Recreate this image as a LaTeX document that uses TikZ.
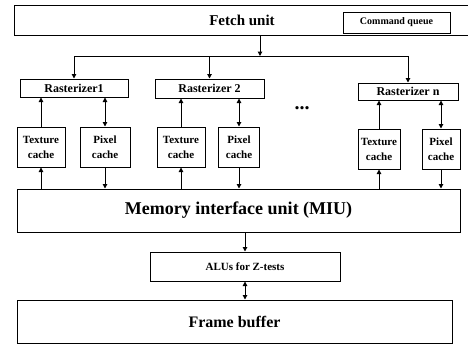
\documentclass[tikz,border=0pt]{standalone}
\usepackage{fontspec}
\setmainfont{Liberation Serif}
\usetikzlibrary{arrows.meta,positioning}

\begin{document}
\begin{tikzpicture}[x=1pt, y=-1pt,
  blk/.style={draw, line width=1pt, inner sep=1pt, align=center,
    font=\fontsize{11}{15}\selectfont\bfseries},
  big/.style={blk, font=\fontsize{18}{20}\selectfont\bfseries},
  tiny/.style={blk, font=\fontsize{10}{11}\selectfont\bfseries},
  arr/.style={-{Triangle[length=4.5pt,width=4.5pt]}, line width=1pt},
  dbl/.style={{Triangle[length=4.5pt,width=4.5pt]}-{Triangle[length=4.5pt,width=4.5pt]}, line width=1pt}]
\useasboundingbox (0,0) rectangle (468,346);
\node[big, font=\fontsize{15}{17}\selectfont\bfseries, minimum width=456pt, minimum height=30pt] (fetch) at (242,20) {Fetch unit};
\node[tiny, minimum width=107pt, minimum height=21pt] (cmdq) at (396.5,22.5) {Command queue};
\coordinate (jn) at (260,56);
\node[blk, font=\fontsize{12}{14}\selectfont\bfseries, minimum width=108pt, minimum height=18pt] (ras1) at (74,88) {Rasterizer1};
\node[blk, font=\fontsize{12}{14}\selectfont\bfseries, minimum width=109pt, minimum height=19pt] (ras2) at (209.5,88.5) {Rasterizer 2};
\node[blk, font=\fontsize{12}{14}\selectfont\bfseries, minimum width=100pt, minimum height=17pt] (rasn) at (408,91.5) {Rasterizer n};
\node[font=\fontsize{20}{20}\selectfont\bfseries] (dots) at (302,108) {...};
\node[blk, minimum width=48pt, minimum height=40pt] (tex1) at (41,147) {Texture\\cache};
\node[blk, minimum width=50pt, minimum height=40pt] (pix1) at (105,147) {Pixel\\cache};
\node[blk, minimum width=48pt, minimum height=40pt] (tex2) at (181,147) {Texture\\cache};
\node[blk, minimum width=41pt, minimum height=40pt] (pix2) at (239,147) {Pixel\\cache};
\node[blk, minimum width=42pt, minimum height=40pt] (texn) at (379,149) {Texture\\cache};
\node[blk, minimum width=38pt, minimum height=40pt] (pixn) at (441,149) {Pixel\\cache};
\node[big, minimum width=443pt, minimum height=43pt] (miu) at (238.5,210.5) {Memory interface unit (MIU)};
\node[tiny, font=\fontsize{11}{12}\selectfont\bfseries, minimum width=190pt, minimum height=29pt] (alu) at (245,266.5) {ALUs for Z-tests};
\node[big, font=\fontsize{16}{18}\selectfont\bfseries, minimum width=435pt, minimum height=43pt] (fb) at (234.5,321.5) {Frame buffer};
% fetch unit to the rasterizers
\draw[arr] (fetch.south -| jn) -- (jn);
\draw[arr] (jn) -| (ras1);
\draw[arr] (jn) -| (rasn);
\draw[arr] (jn -| ras2) -- (ras2);
% caches
\draw[arr] (tex1.north) -- (tex1.north |- ras1.south);
\draw[dbl] (pix1.north) -- (pix1.north |- ras1.south);
\draw[arr] (tex2.north) -- (tex2.north |- ras2.south);
\draw[dbl] (pix2.north) -- (pix2.north |- ras2.south);
\draw[arr] (texn.north) -- (texn.north |- rasn.south);
\draw[dbl] (pixn.north) -- (pixn.north |- rasn.south);
\draw[arr] (tex1.south |- miu.north) -- (tex1.south);
\draw[arr] (pix1.south) -- (pix1.south |- miu.north);
\draw[arr] (tex2.south |- miu.north) -- (tex2.south);
\draw[arr] (pix2.south) -- (pix2.south |- miu.north);
\draw[arr] (texn.south |- miu.north) -- (texn.south);
\draw[arr] (pixn.south) -- (pixn.south |- miu.north);
% memory path
\draw[arr] (miu.south -| alu) -- (alu);
\draw[dbl] (alu) -- (alu |- fb.north);
\end{tikzpicture}
\end{document}
